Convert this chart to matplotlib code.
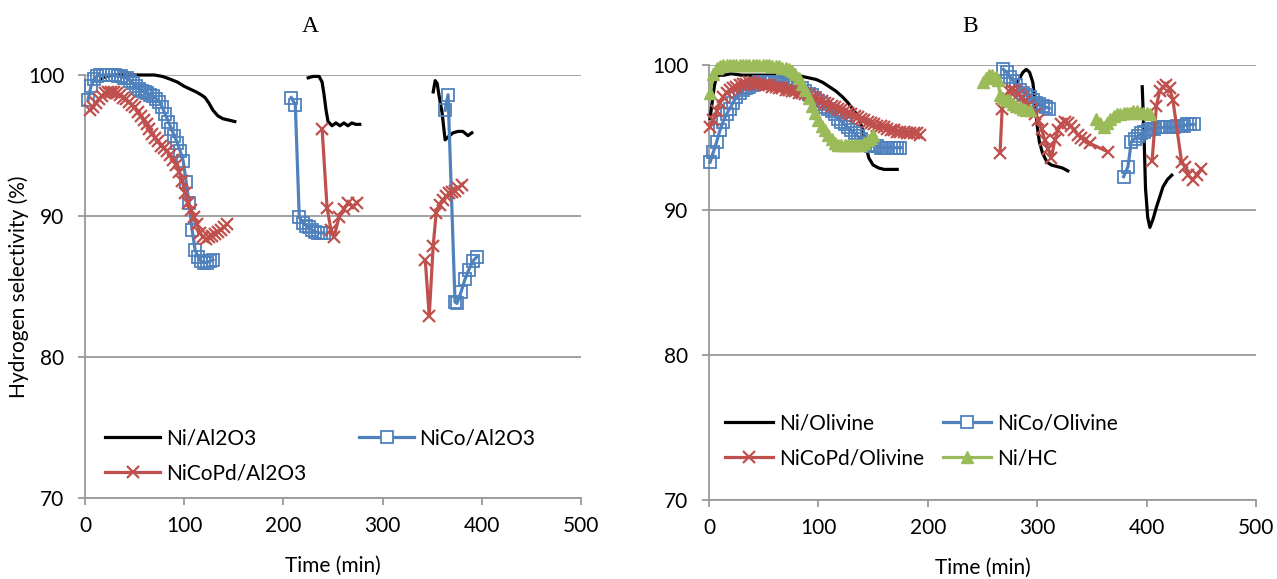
import numpy as np
import matplotlib
matplotlib.use("Agg")
import matplotlib.pyplot as plt
from matplotlib.lines import Line2D

nan = np.nan

# ---------------- Panel A: Al2O3-supported catalysts ----------------
ni_al_t = [15, 20, 30, 40, 50, 60, 70, 78, 86, 93, 100, 106, 112, 117, 121, 125, 129, 134, 139, 145, 151,
           nan,
           225, 230, 236, 239, 241, 243, 245, 249, 253, 257, 261, 265, 269, 273, 277,
           nan,
           351, 353, 355, 357, 360, 363, 366, 371, 376, 381, 386, 390]
ni_al_v = [99.6, 99.9, 100, 100, 100, 100, 100, 99.9, 99.7, 99.5, 99.2, 99.0, 98.8, 98.6, 98.4, 98.0, 97.5, 97.1, 96.9, 96.8, 96.7,
           nan,
           99.8, 99.9, 99.9, 99.5, 98.6, 97.5, 96.7, 96.4, 96.6, 96.4, 96.6, 96.4, 96.6, 96.5, 96.5,
           nan,
           98.8, 99.6, 99.4, 98.5, 97.3, 95.4, 95.6, 95.9, 96.0, 96.0, 95.7, 95.9]

nico_al_t = [3, 6, 9, 12, 15, 18, 21, 24, 27, 30, 33, 36, 39, 42, 45, 48, 51, 54, 57, 60,
             63, 66, 69, 72, 75, 78, 81, 84, 87, 90, 93, 96, 99, 102, 105, 108, 111, 114, 117, 120,
             123, 126, 129,
             nan,
             208, 212, 216, 220, 223, 226, 229, 232, 235, 238, 241,
             nan,
             363, 366, 373, 375, 379, 383, 387, 391, 395]
nico_al_v = [98.2, 99.2, 99.7, 99.9, 100, 100, 100, 100, 100, 100, 99.9, 99.9, 99.8, 99.8, 99.6, 99.4, 99.2, 99.0, 98.9, 98.8,
             98.7, 98.6, 98.5, 98.3, 98.1, 97.7, 97.2, 96.7, 96.2, 95.7, 95.2, 94.6, 93.9, 92.4, 90.9, 89.0, 87.6, 87.1, 86.8, 86.7,
             86.7, 86.8, 86.9,
             nan,
             98.4, 97.9, 89.9, 89.5, 89.3, 89.2, 89.0, 88.9, 88.8, 88.8, 88.8,
             nan,
             97.5, 98.6, 83.9, 83.8, 84.6, 85.5, 86.2, 86.8, 87.1]

nicopd_al_t = [5, 8, 11, 14, 17, 20, 23, 26, 29, 32, 35, 38, 41, 44, 47, 50, 53, 56, 59, 62,
               65, 68, 71, 74, 77, 80, 83, 86, 89, 92, 95, 98, 101, 104, 107, 110, 113, 116, 119, 122,
               125, 128, 131, 134, 137, 140, 143,
               nan,
               239, 244, 248, 251, 256, 261, 265, 270, 274,
               nan,
               343, 347, 351, 354, 358, 361, 364, 367, 370, 373, 376, 380]
nicopd_al_v = [97.5, 97.7, 98.0, 98.3, 98.5, 98.7, 98.8, 98.8, 98.8, 98.7, 98.6, 98.4, 98.3, 98.1, 97.9, 97.7, 97.4, 97.1, 96.8, 96.5,
               96.2, 95.8, 95.5, 95.3, 95.0, 94.8, 94.6, 94.3, 94.0, 93.6, 93.1, 92.5, 91.6, 90.9, 90.4, 89.9, 89.4, 88.8, 88.5, 88.4,
               88.5, 88.6, 88.7, 88.9, 89.0, 89.2, 89.4,
               nan,
               96.2, 90.6, 89.0, 88.5, 89.9, 90.5, 90.9, 90.7, 90.9,
               nan,
               86.9, 82.9, 87.9, 90.2, 90.8, 91.1, 91.4, 91.6, 91.7, 91.8, 92.0, 92.2]

# ---------------- Panel B: olivine and HC supported catalysts ----------------
ni_ol_t = [1, 3, 5, 7, 10, 14, 20, 30, 40, 50, 60, 70, 80, 86, 92, 98, 104, 110, 116, 122,
           127, 131, 135, 138, 141, 143, 146, 150, 155, 160, 166, 172,
           nan,
           281, 284, 287, 290, 293, 296, 298, 300, 302, 305, 309, 313, 318, 323, 328,
           nan,
           396, 397, 398, 399, 401, 403, 406, 409, 412, 415, 419, 423]
ni_ol_v = [96.3, 97.5, 98.6, 99.2, 99.3, 99.3, 99.4, 99.3, 99.3, 99.3, 99.3, 99.3, 99.3, 99.2, 99.1, 99.0, 98.8, 98.5, 98.2, 97.8,
           97.4, 97.0, 96.6, 96.1, 95.4, 94.6, 93.6, 93.1, 92.9, 92.8, 92.8, 92.8,
           nan,
           98.7, 99.1, 99.5, 99.7, 99.5, 98.8, 97.5, 95.8, 94.7, 93.9, 93.3, 93.1, 93.0, 92.9, 92.7,
           nan,
           98.5, 96.5, 94.2, 91.5, 89.5, 88.8, 89.4, 90.2, 90.9, 91.6, 92.1, 92.4]

nico_ol_t = [1, 4, 7, 10, 13, 16, 19, 22, 25, 28, 31, 34, 37, 40, 43, 46, 49, 52, 55, 58,
             61, 64, 67, 70, 73, 76, 79, 82, 85, 88, 91, 94, 97, 100, 103, 106, 109, 112, 115, 118,
             121, 124, 127, 130, 133, 136, 139, 142, 145, 148, 151, 154, 157, 160, 163, 166, 169, 172, 175,
             nan,
             269, 272, 275, 278, 281, 284, 287, 290, 293, 296, 299, 302, 305, 308, 311,
             nan,
             379, 383, 386, 389, 392, 395, 398, 401, 404, 407, 410, 413, 416, 419, 422, 425, 428, 431, 434, 437,
             440, 443]
nico_ol_v = [93.3, 94.0, 94.7, 95.5, 96.1, 96.6, 97.0, 97.4, 97.8, 98.1, 98.3, 98.4, 98.5, 98.6, 98.7, 98.8, 98.8, 98.8, 98.8, 98.8,
             98.8, 98.8, 98.7, 98.7, 98.6, 98.6, 98.5, 98.4, 98.4, 98.2, 98.0, 97.9, 97.7, 97.5, 97.3, 97.1, 97.0, 96.8, 96.6, 96.3,
             96.1, 95.9, 95.7, 95.5, 95.3, 95.1, 94.9, 94.6, 94.5, 94.4, 94.4, 94.4, 94.3, 94.3, 94.3, 94.3, 94.3, 94.3, 94.3,
             nan,
             99.7, 99.5, 99.2, 98.9, 98.6, 98.3, 98.1, 97.9, 97.8, 97.6, 97.4, 97.3, 97.2, 97.1, 97.0,
             nan,
             92.3, 93.0, 94.7, 94.9, 95.1, 95.3, 95.4, 95.5, 95.6, 95.6, 95.7, 95.7, 95.7, 95.7, 95.7, 95.7, 95.8, 95.8, 95.8, 95.9,
             95.9, 95.9]

nicopd_ol_t = [1, 4, 7, 10, 13, 16, 19, 22, 25, 28, 31, 34, 37, 40, 43, 46, 49, 52, 55, 58,
               61, 64, 67, 70, 73, 76, 79, 82, 85, 88, 91, 94, 97, 100, 103, 106, 109, 112, 115, 118,
               121, 124, 127, 130, 133, 136, 139, 142, 145, 148, 151, 154, 157, 160, 163, 166, 169, 172, 175, 178,
               181, 184, 187, 190, 193,
               nan,
               266, 268, 271, 274, 277, 280, 283, 286, 289, 292, 295, 298, 301, 304, 307, 310, 313, 316, 319, 322,
               325, 328, 331, 334, 337, 340, 344, 348, 365,
               nan,
               405, 409, 412, 415, 418, 421, 424, 432, 435, 438, 442, 446, 450]
nicopd_ol_v = [95.7, 96.2, 96.8, 97.4, 97.8, 98.1, 98.3, 98.4, 98.5, 98.6, 98.7, 98.7, 98.8, 98.8, 98.7, 98.7, 98.6, 98.6, 98.6, 98.5,
               98.5, 98.4, 98.4, 98.3, 98.3, 98.2, 98.2, 98.1, 98.1, 98.0, 97.9, 97.8, 97.7, 97.6, 97.5, 97.4, 97.3, 97.2, 97.1, 97.0,
               96.9, 96.8, 96.7, 96.6, 96.5, 96.4, 96.3, 96.2, 96.1, 96.0, 95.9, 95.8, 95.8, 95.7, 95.6, 95.5, 95.5, 95.4, 95.4, 95.4,
               95.3, 95.3, 95.3, 95.3, 95.2,
               nan,
               93.9, 97.0, 97.8, 98.2, 98.3, 98.2, 98.0, 97.8, 97.5, 97.2, 97.0, 96.6, 96.2, 95.6, 94.8, 94.2, 93.6, 94.8, 95.5, 95.9,
               96.1, 96.0, 95.8, 95.5, 95.2, 95.0, 94.8, 94.6, 94.0,
               nan,
               93.4, 97.2, 98.2, 98.5, 98.6, 98.4, 97.6, 93.3, 93.0, 92.4, 92.1, 92.4, 92.8]

nihc_t = [1, 4, 7, 10, 13, 16, 19, 22, 25, 28, 31, 34, 37, 40, 43, 46, 49, 52, 55, 58,
          61, 64, 67, 70, 73, 76, 79, 82, 85, 88, 91, 94, 97, 100, 103, 106, 109, 112, 115, 118,
          121, 124, 127, 130, 133, 136, 139, 142, 145, 148, 150,
          nan,
          250, 253, 256, 259, 262, 264, 266, 269, 272, 275, 278, 281, 284, 287, 290, 293,
          nan,
          354, 357, 361, 364, 367, 370, 373, 376, 379, 382, 385, 388, 391, 394, 397, 400, 403]
nihc_v = [98.1, 99.4, 99.8, 99.9, 100, 100, 100, 100, 100, 100, 100, 100, 100, 100, 100, 100, 100, 100, 100, 99.9,
          99.9, 99.9, 99.8, 99.8, 99.7, 99.6, 99.4, 99.1, 98.7, 98.3, 97.7, 97.2, 96.7, 96.2, 95.8, 95.5, 95.2, 94.9, 94.6, 94.5,
          94.5, 94.5, 94.5, 94.5, 94.5, 94.5, 94.5, 94.6, 94.8, 95.0, 95.2,
          nan,
          98.8, 99.1, 99.3, 99.3, 99.2, 99.0, 97.9, 97.7, 97.6, 97.5, 97.3, 97.2, 97.1, 97.0, 96.9, 96.9,
          nan,
          96.3, 96.0, 95.7, 96.0, 96.3, 96.5, 96.6, 96.6, 96.7, 96.7, 96.7, 96.8, 96.8, 96.7, 96.7, 96.7, 96.6]

labels_a = ["Ni/Al2O3", "NiCo/Al2O3", "NiCoPd/Al2O3"]
labels_b = ["Ni/Olivine", "NiCo/Olivine", "NiCoPd/Olivine", "Ni/HC"]
x_ticks = [0, 100, 200, 300, 400, 500]
y_ticks = [70, 80, 90, 100]

# ---------------- styling ----------------
BLACK = "#000000"
BLUE = "#4F81BD"
RED = "#C0504D"
GREEN = "#9BBB59"
GRID = "#9a9a9a"
FS = 15
plt.rcParams["font.family"] = ["Lato", "DejaVu Sans"]

fig = plt.figure(figsize=(12.77, 5.79), dpi=100)
ax_a = fig.add_axes([85 / 1277, 1 - 498 / 579, (581 - 85) / 1277, (498 - 75) / 579])
ax_b = fig.add_axes([709 / 1277, 1 - 500 / 579, (1256 - 709) / 1277, (500 - 65) / 579])

LW = 2.3


def style_axes(ax):
    ax.set_xlim(0, 500)
    ax.set_ylim(70, 100)
    ax.set_xticks(x_ticks)
    ax.set_yticks(y_ticks)
    ax.yaxis.grid(True, color=GRID, lw=1.3)
    ax.set_axisbelow(True)
    for s in ("top", "right"):
        ax.spines[s].set_visible(False)
    for s in ("left", "bottom"):
        ax.spines[s].set_color(GRID)
        ax.spines[s].set_linewidth(1.3)
    ax.tick_params(axis="both", colors=GRID, labelcolor="black", labelsize=FS,
                   length=5, width=1.3, direction="out")
    ax.tick_params(axis="x", pad=8)
    ax.tick_params(axis="y", pad=10)
    ax.set_xlabel("Time (min)", fontsize=FS, labelpad=14)


def plot_series(ax, t, v, color, marker=None):
    mk = dict(clip_on=False, zorder=3)
    if marker == "s":
        mk.update(marker="s", markersize=8.8, markerfacecolor="none",
                  markeredgecolor=color, markeredgewidth=1.3)
    elif marker == "x":
        mk.update(marker="x", markersize=9, markeredgecolor=color, markeredgewidth=1.6)
    elif marker == "^":
        mk.update(marker="^", markersize=8.5, markerfacecolor=color,
                  markeredgecolor=color, markeredgewidth=1)
    ax.plot(t, v, color=color, lw=LW, **mk)


# Panel A
style_axes(ax_a)
plot_series(ax_a, ni_al_t, ni_al_v, BLACK)
plot_series(ax_a, nico_al_t, nico_al_v, BLUE, "s")
plot_series(ax_a, nicopd_al_t, nicopd_al_v, RED, "x")
ax_a.set_ylabel("Hydrogen selectivity (%)", fontsize=FS)
ax_a.yaxis.set_label_coords(-0.113, 0.5)
fig.text(310 / 1277, 1 - 27 / 579, "A", ha="center", va="center",
         fontsize=17, family="Liberation Serif")

# Panel B
style_axes(ax_b)
plot_series(ax_b, ni_ol_t, ni_ol_v, BLACK)
plot_series(ax_b, nico_ol_t, nico_ol_v, BLUE, "s")
plot_series(ax_b, nicopd_ol_t, nicopd_ol_v, RED, "x")
plot_series(ax_b, nihc_t, nihc_v, GREEN, "^")
fig.text(970 / 1277, 1 - 27 / 579, "B", ha="center", va="center",
         fontsize=17, family="Liberation Serif")


def handle(color, marker=None):
    kw = dict(color=color, lw=LW)
    if marker == "s":
        kw.update(marker="s", markersize=8.8, markerfacecolor="white",
                  markeredgecolor=color, markeredgewidth=1.3)
    elif marker == "x":
        kw.update(marker="x", markersize=9, markeredgecolor=color, markeredgewidth=1.6)
    elif marker == "^":
        kw.update(marker="^", markersize=8.5, markerfacecolor=color, markeredgecolor=color)
    return Line2D([], [], **kw)


# Legends: two columns, entries ordered row by row
hA = [handle(BLACK), handle(RED, "x"), handle(BLUE, "s")]
lA = [labels_a[0], labels_a[2], labels_a[1]]
ax_a.legend(hA, lA, ncol=2, loc="upper left", bbox_to_anchor=(0.024, 0.184),
            frameon=False, fontsize=FS, handlelength=2.65, handletextpad=0.25,
            columnspacing=2.55, labelspacing=0.72, numpoints=1, borderaxespad=0)

hB = [handle(BLACK), handle(RED, "x"), handle(BLUE, "s"), handle(GREEN, "^")]
lB = [labels_b[0], labels_b[2], labels_b[1], labels_b[3]]
ax_b.legend(hB, lB, ncol=2, loc="upper left", bbox_to_anchor=(0.0146, 0.218),
            frameon=False, fontsize=FS, handlelength=2.3, handletextpad=0.3,
            columnspacing=0.9, labelspacing=0.72, numpoints=1, borderaxespad=0)

fig.savefig("out.png", dpi=100)
